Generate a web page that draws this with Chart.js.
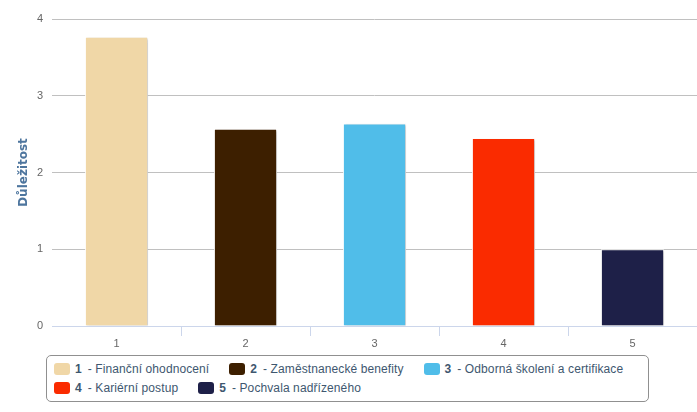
<!DOCTYPE html>
<html>
<head>
<meta charset="utf-8">
<script src="https://cdn.jsdelivr.net/npm/chart.js@4"></script>
<style>
  html, body { margin: 0; padding: 0; background: #fff; }
  #wrap { position: relative; width: 697px; height: 412px; }
  #chart { position: absolute; left: 0; top: 0; }
  #legend {
    position: absolute; left: 46px; top: 355px; width: 601px; height: 45px;
    border: 1px solid #909090; border-radius: 5px;
    box-sizing: content-box;
    display: flex; flex-wrap: wrap; align-content: flex-start;
    padding: 0; column-gap: 20px;
    font-family: "Liberation Sans", Arial, sans-serif; font-size: 12px; color: #3e576f;
    letter-spacing: 0.1px;
  }
  .item { display: flex; align-items: center; height: 18px; margin-top: 4px; white-space: nowrap; }
  .item.row2 { margin-top: 1px; }
  .item:first-child, .item.rowstart { margin-left: 7px; }
  .sw { width: 16px; height: 12px; border-radius: 3px; margin-right: 5px; }
  .num { font-weight: bold; margin-right: 6px; }
</style>
</head>
<body>
<div id="wrap">
  <canvas id="chart" width="697" height="350"></canvas>
  <div id="legend"></div>
</div>
<script>
// --- Data ---
const categories = ['1', '2', '3', '4', '5'];
const values = [3.77, 2.57, 2.64, 2.45, 1.0];
const itemNames = ['Finanční ohodnocení', 'Zaměstnanecké benefity', 'Odborná školení a certifikace', 'Kariérní postup', 'Pochvala nadřízeného'];
const barColors = ['#f0d7a7', '#3d1f00', '#50bde9', '#fa2b00', '#1e2048'];
const yTicks = [0, 1, 2, 3, 4];
const yTitle = 'Důležitost';

// shadow behind bars, roughly like the original
const barShadow = {
  id: 'barShadow',
  beforeDatasetsDraw(chart) {
    const ctx = chart.ctx;
    ctx.save();
    ctx.shadowColor = 'rgba(0,0,0,0.18)';
    ctx.shadowOffsetX = 2;
    ctx.shadowOffsetY = 1;
    ctx.shadowBlur = 2;
  },
  afterDatasetsDraw(chart) {
    chart.ctx.restore();
  }
};

const ctx = document.getElementById('chart').getContext('2d');
const chart = new Chart(ctx, {
  type: 'bar',
  data: {
    labels: categories,
    datasets: [{
      data: values,
      backgroundColor: barColors,
      borderColor: '#ffffff',
      borderWidth: 1,
      categoryPercentage: 1,
      barPercentage: 0.49
    }]
  },
  options: {
    responsive: false,
    animation: false,
    layout: { padding: { top: 19, right: 0, left: 0, bottom: 0 } },
    plugins: { legend: { display: false }, tooltip: { enabled: false } },
    scales: {
      x: {
        grid: {
          display: true, drawOnChartArea: false, tickLength: 10, offset: true,
          // no tick marks at the two ends of the axis
          color: (c) => (c.index === 0 || c.index === categories.length) ? 'rgba(0,0,0,0)' : '#ccd6eb'
        },
        border: { display: true, color: '#ccd6eb' },
        ticks: { color: '#666', font: { family: 'Liberation Sans', size: 11 }, padding: 1 },
        afterFit(s) { s.height = 24; }
      },
      y: {
        min: 0, max: 4,
        afterBuildTicks(s) { s.ticks = yTicks.map(v => ({ value: v })); },
        grid: { color: '#c0c0c0', drawTicks: false },
        border: { display: false },
        ticks: { color: '#666', font: { family: 'Liberation Sans', size: 11 }, padding: 9 },
        title: {
          display: true, text: yTitle, color: '#4d759e',
          font: { family: 'DejaVu Sans', size: 12, weight: 'bold' },
          padding: { top: 17, bottom: 0 }
        },
        afterFit(s) { s.width = 52; }
      }
    }
  },
  plugins: [barShadow]
});

// --- Legend ---
const legend = document.getElementById('legend');
categories.forEach((c, i) => {
  const it = document.createElement('div');
  it.className = 'item' + (i === 3 ? ' rowstart' : '') + (i >= 3 ? ' row2' : '');
  it.innerHTML = '<span class="sw" style="background:' + barColors[i] + '"></span>' +
    '<span class="num">' + c + '</span><span>- ' + itemNames[i] + '</span>';
  legend.appendChild(it);
  if (i === 2) {
    const br = document.createElement('div');
    br.style.flexBasis = '100%';
    br.style.height = '0';
    legend.appendChild(br);
  }
});
</script>
</body>
</html>
